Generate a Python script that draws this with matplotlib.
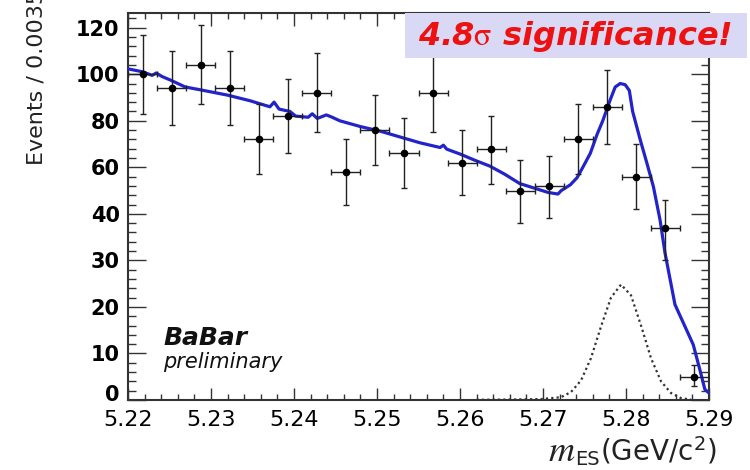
import matplotlib
matplotlib.use("Agg")
import matplotlib.pyplot as plt
import matplotlib.transforms as mtransforms
from matplotlib.patches import Rectangle
import numpy as np

plt.rcParams['font.family'] = ['DejaVu Sans']
plt.rcParams['mathtext.fontset'] = 'stix'

# data points (bin centres, events, error bar ends)
x_pts = [5.22175, 5.22525, 5.22875, 5.23225, 5.23575, 5.23925, 5.24275, 5.24625, 5.24975, 5.25325,
         5.25675, 5.26025, 5.26375, 5.26725, 5.27075, 5.27425, 5.27775, 5.28125, 5.28475, 5.28825]
y_pts = [100, 94, 104, 94, 72, 82, 92, 58, 76, 66, 92, 62, 68, 50, 52, 72, 86, 56, 37, 5]
y_lo = [83, 78, 87, 78, 57, 66, 75, 44, 61, 51, 75, 48, 53, 38, 39, 57, 70, 42, 30, 3]
y_hi = [117, 110, 121, 110, 87, 98, 109, 72, 91, 81, 109, 76, 82, 63, 65, 87, 102, 70, 46, 7.6]
half_bin = 0.00175

# total fit (blue)
fit_x = [5.2200, 5.2218, 5.2229, 5.2234, 5.2241, 5.2251, 5.2269, 5.2287, 5.2320, 5.2347,
         5.2371, 5.2376, 5.2382, 5.2395, 5.2402, 5.2417, 5.2422, 5.2428, 5.2439, 5.2446,
         5.2455, 5.2480, 5.2504, 5.2528, 5.2552, 5.2576, 5.2580, 5.2584, 5.2600, 5.2618,
         5.2636, 5.2654, 5.2672, 5.2690, 5.2706, 5.2718, 5.2722, 5.2733, 5.2741, 5.2748,
         5.2757, 5.2765, 5.2772, 5.2781, 5.2787, 5.2793, 5.2799, 5.2804, 5.2808, 5.2817,
         5.2825, 5.2833, 5.2841, 5.2847, 5.2859, 5.2869, 5.2881, 5.2889, 5.2895, 5.2900]
fit_y = [102.3, 101, 99.5, 100.5, 99, 97.5, 94.5, 93.3, 91, 88.6,
         86, 88, 85, 84, 82, 81.5, 83, 81, 82.5, 81.5,
         80, 77.5, 75.5, 73, 70.5, 68.5, 69.5, 67.8, 65.7, 63,
         60.5, 57, 53, 51, 49.2, 48.5, 50, 52.5, 55.5, 60,
         66, 74, 80, 89, 94.5, 96, 95.5, 93, 84, 72,
         62, 51.7, 38.7, 31.6, 20.5, 16.6, 11.9, 6.5, 2.3, 1.5]

# signal component (dotted)
sig_x = [5.2620, 5.2660, 5.26976, 5.27217, 5.27337, 5.27458, 5.27578, 5.27699, 5.27819, 5.27940,
         5.28060, 5.28181, 5.28301, 5.28422, 5.28542, 5.28663, 5.28783]
sig_y = [0.05, 0.1, 0.2, 0.6, 1.7, 4.2, 9, 15.8, 22, 24.8,
         22.5, 16, 9, 4, 1.5, 0.4, 0.1]

y_major = [0, 10, 20, 30, 40, 60, 80, 100, 120]
x_major = [5.22, 5.23, 5.24, 5.25, 5.26, 5.27, 5.28, 5.29]


def fwd(v):
    v = np.asarray(v, dtype=float)
    return np.where(v <= 40, v, 20 + v / 2)


def inv(u):
    u = np.asarray(u, dtype=float)
    return np.where(u <= 40, u, 2 * (u - 20))


fig = plt.figure(figsize=(7.5, 4.7), dpi=100)
ax = fig.add_axes([128 / 750, 70 / 470, 581 / 750, 387 / 470])
ax.set_yscale('function', functions=(fwd, inv))

ax.plot(sig_x, sig_y, color='#333333', lw=1.6, ls=(0, (1, 1.4)), zorder=2)
ax.plot(fit_x, fit_y, color='#2323cc', lw=2.3, zorder=3)

yerr = [np.array(y_pts) - np.array(y_lo), np.array(y_hi) - np.array(y_pts)]
ax.errorbar(x_pts, y_pts, xerr=half_bin, yerr=yerr, fmt='o', color='black', ms=4.5,
            ecolor='#222222', elinewidth=1.0, capsize=2, capthick=1.0, zorder=4)

ax.set_xlim(5.22, 5.29)
ax.set_ylim(0, 126.3)
ax.set_xticks(x_major)
ax.set_xticklabels(['%.2f' % v for v in x_major])
ax.set_xticks(np.arange(5.222, 5.29, 0.002), minor=True)
ax.set_yticks(y_major)
ax.set_yticklabels([str(v) for v in y_major])
ax.set_yticks(list(np.arange(2, 40, 2)) + list(np.arange(44, 126, 4)), minor=True)

ax.tick_params(which='both', direction='in', top=True, right=True, color='#333333', width=1)
ax.tick_params(axis='y', which='major', length=13, pad=6)
ax.tick_params(axis='y', which='minor', length=6)
ax.tick_params(axis='x', which='major', length=9, pad=7, labelsize=16)
ax.tick_params(axis='x', which='minor', length=4.5)
for lab in ax.get_yticklabels():
    lab.set_fontsize(15)
    lab.set_fontweight('bold')
# the "0" label sits a little above the axis line, as in the original
lab0 = ax.yaxis.get_major_ticks()[0].label1
lab0.set_transform(lab0.get_transform() + mtransforms.ScaledTranslation(0, 5 / 72, fig.dpi_scale_trans))
for sp in ax.spines.values():
    sp.set_color('#333333')
    sp.set_linewidth(1.5)

fig.text(37 / 750, (470 - 165) / 470, 'Events / 0.0035', rotation=90, ha='center', va='bottom',
         fontsize=16, color='#222222')

# x axis title: m (italic serif) + ES (subscript) + (GeV/c2)
r = fig.canvas.get_renderer()
t_unit = fig.text(717 / 750, 9 / 470, r'(GeV/c$^{\mathregular{2}}$)', ha='right', va='baseline',
                  fontsize=20, color='#222222')
bb = t_unit.get_window_extent(r)
t_sub = fig.text(bb.x0 / 750, 5 / 470, 'ES', ha='right', va='baseline', fontsize=14, color='#222222')
bb2 = t_sub.get_window_extent(r)
fig.text(bb2.x0 / 750, 9 / 470, 'm', ha='right', va='baseline', fontsize=26,
         family='STIXGeneral', style='italic', color='#222222')

fig.text(163 / 750, (470 - 345) / 470, 'BaBar', fontsize=18, fontweight='bold', style='italic',
         ha='left', va='baseline', color='#111111')
fig.text(163 / 750, (470 - 368) / 470, 'preliminary', fontsize=15, style='italic',
         ha='left', va='baseline', color='#111111')

fig.add_artist(Rectangle((405 / 750, (470 - 58) / 470), 342 / 750, 45 / 470,
                         transform=fig.transFigure, facecolor='#d9d9f5', edgecolor='none', zorder=5))
fig.text(575 / 750, (470 - 36) / 470, r'4.8$\mathrm{\sigma}$ significance!', ha='center', va='center',
         fontsize=23, fontweight='bold', style='italic', color='#ee1111', zorder=6)

fig.savefig('out.png', dpi=100)
